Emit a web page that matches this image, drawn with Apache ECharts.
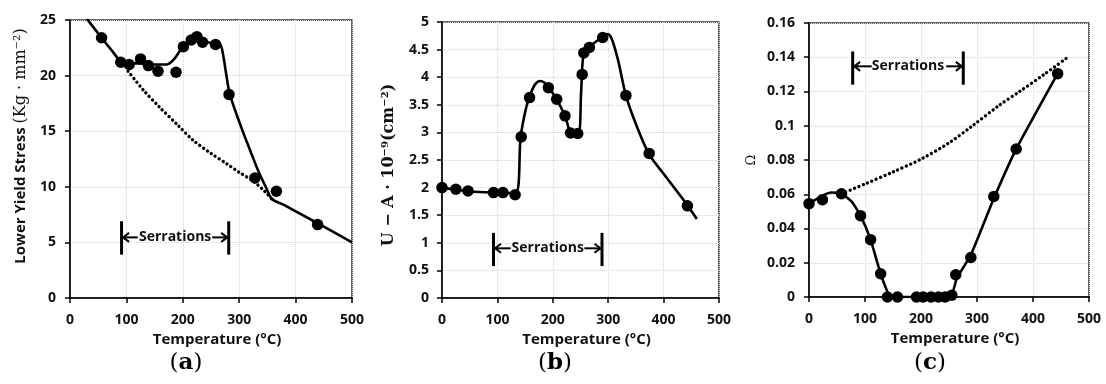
<!DOCTYPE html>
<html><head><meta charset="utf-8">
<script src="https://cdn.jsdelivr.net/npm/echarts@6/dist/echarts.min.js"></script>
<style>html,body{margin:0;padding:0;background:#fff}#c{width:1106px;height:384px}</style>
</head><body><div id="c"></div>
<script>
// ---------- data ----------
const xTicks = [0, 100, 200, 300, 400, 500];
// (a) Lower yield stress
const aPoints = [[56,23.4],[90,21.2],[105,21.0],[125,21.5],[139,20.9],[156,20.4],[188,20.3],[201,22.6],[215,23.2],[225,23.5],[235,23.0],[258,22.8],[282,18.3],[328,10.8],[366,9.6],[439,6.6]];
const aCurve = [[30,25.1],[56,23.4],[75,22.2],[88,21.4],[105,21.1],[125,21.1],[150,21.0],[172,21.0],[185,21.5],[200,22.6],[215,23.3],[225,23.5],[238,23.1],[256,22.9],[265,22.9],[283,18.4],[304,15.3],[320,13.2],[334,11.4],[347,10.0],[358,8.9],[380,8.35],[440,6.7],[500,5.0]];
const aDotted = [[103,20.4],[130,18.7],[158,17.2],[190,15.6],[218,14.2],[250,13.0],[277,12.1],[300,11.3],[325,10.5],[345,9.6],[358,8.9]];
const aSerr = [91.4, 281.4, 3.9, 6.9, 5.45, 120, 252];
// (b) U - A
const bPoints = [[0,2.0],[25,1.97],[47,1.94],[93,1.91],[110,1.91],[132,1.87],[143,2.92],[158,3.63],[192,3.81],[207,3.60],[222,3.30],[232,2.99],[245,2.98],[253,4.05],[256,4.44],[266,4.54],[290,4.72],[332,3.67],[374,2.62],[443,1.67]];
const bCurve = [[0,2.0],[25,1.96],[50,1.93],[90,1.91],[133,1.9],[142,2.92],[152,3.45],[160,3.7],[168,3.87],[177,3.93],[185,3.9],[193,3.81],[207,3.6],[222,3.3],[233,2.99],[246,2.97],[251,3.7],[254,4.3],[258,4.46],[266,4.55],[280,4.66],[290,4.73],[299,4.78],[307,4.68],[318,4.3],[332,3.67],[350,3.15],[374,2.6],[400,2.25],[443,1.68],[460,1.43]];
const bSerr = [93, 288.8, 0.58, 1.18, 0.9, 124, 257];
// (c) Omega
const cPoints = [[0,0.0545],[24,0.0568],[58,0.0603],[92,0.0475],[110,0.0335],[128,0.0136],[140,0],[158,0],[192,0],[204,0],[218,0],[231,0],[243,0],[255,0.001],[262,0.013],[289,0.0231],[330,0.0587],[370,0.0864],[444,0.1304]];
const cCurve = [[0,0.0545],[20,0.0585],[40,0.061],[58,0.0605],[76,0.0558],[92,0.0475],[110,0.0335],[128,0.0136],[147,0],[252,0],[264,0.011],[289,0.0245],[330,0.0575],[370,0.0864],[444,0.1304]];
const cDotted = [[58,0.0603],[100,0.066],[150,0.073],[200,0.0805],[250,0.09],[290,0.0995],[340,0.112],[376,0.12],[420,0.13],[462,0.14]];
const cSerr = [78, 275.5, 0.124, 0.1434, 0.1347, 112, 245];

// ---------- styles ----------
const SANS = '"Open Sans", "Liberation Sans", sans-serif';
const SERIF = '"DejaVu Serif", "Liberation Serif", serif';
const INK = '#111';
const grids = [
  {left:70, top:20, width:282, height:278},
  {left:442, top:22, width:277, height:276},
  {left:809, top:23, width:280, height:274}
];
const yCfg = [
  {min:0, max:25, interval:5, margin:14},
  {min:0, max:5, interval:0.5, margin:13},
  {min:0, max:0.16, interval:0.02, margin:14}
];
const smoothBy = [0.25, 0.3, 0.15];

function xAxisOf(i){
  return {
    type:'value', gridIndex:i, min:0, max:500, interval:100,
    name:'Temperature (°C)', nameLocation:'middle', nameGap:30,
    nameTextStyle:{fontFamily:SANS, fontWeight:'bold', fontSize:15, color:INK, padding:[0,0,0,12]},
    axisLine:{show:true, onZero:false, lineStyle:{color:'#000', width:1.5}},
    axisTick:{show:true, inside:false, length:5, lineStyle:{color:'#000', width:1.5}},
    axisLabel:{fontFamily:SANS, fontWeight:'bold', fontSize:14, color:INK, margin:15},
    splitLine:{show:true, lineStyle:{color:'#d4d4d4', type:'dotted', width:1}}
  };
}
function yAxisOf(i, name, nameGap, rich, pad){
  const c = yCfg[i];
  return {
    type:'value', gridIndex:i, min:c.min, max:c.max, interval:c.interval,
    name:name, nameLocation:'middle', nameGap:nameGap, nameRotate:90,
    nameTextStyle:{rich:rich, padding:pad},
    axisLine:{show:true, onZero:false, lineStyle:{color:'#000', width:1.5}},
    axisTick:{show:true, inside:false, length:5, lineStyle:{color:'#000', width:1.5}},
    axisLabel:{fontFamily:SANS, fontWeight:'bold', fontSize:14, color:INK, margin:c.margin},
    splitLine:{show:true, lineStyle:{color:'#d4d4d4', type:'dotted', width:1}}
  };
}

function serrRender(params, api){
  const x0=api.value(0), x1=api.value(1), yl=api.value(2), yh=api.value(3), ym=api.value(4), il=api.value(5), ir=api.value(6);
  const pL0=api.coord([x0,yl]), pL1=api.coord([x0,yh]);
  const pR0=api.coord([x1,yl]), pR1=api.coord([x1,yh]);
  const aL=api.coord([x0,ym]), aLi=api.coord([il,ym]);
  const aR=api.coord([x1,ym]), aRi=api.coord([ir,ym]);
  const mid=api.coord([(x0+x1)/2, ym]);
  const h=6, w=4.5;
  const ls={stroke:'#000', lineWidth:2, fill:null};
  return {type:'group', children:[
    {type:'line', shape:{x1:pL0[0],y1:pL0[1],x2:pL1[0],y2:pL1[1]}, style:{stroke:'#000',lineWidth:3}},
    {type:'line', shape:{x1:pR0[0],y1:pR0[1],x2:pR1[0],y2:pR1[1]}, style:{stroke:'#000',lineWidth:3}},
    {type:'line', shape:{x1:aLi[0],y1:aLi[1],x2:aL[0]+1.5,y2:aL[1]}, style:ls},
    {type:'line', shape:{x1:aRi[0],y1:aRi[1],x2:aR[0]-1.5,y2:aR[1]}, style:ls},
    {type:'polyline', shape:{points:[[aL[0]+1.5+h,aL[1]-w],[aL[0]+1.5,aL[1]],[aL[0]+1.5+h,aL[1]+w]]}, style:ls},
    {type:'polyline', shape:{points:[[aR[0]-1.5-h,aR[1]-w],[aR[0]-1.5,aR[1]],[aR[0]-1.5-h,aR[1]+w]]}, style:ls},
    {type:'text', x:mid[0], y:mid[1], style:{text:'Serrations', align:'center', verticalAlign:'middle', fontFamily:SANS, fontWeight:'bold', fontSize:14, fill:INK}}
  ]};
}

function panelSeries(i, pts, curve, dotted, serr){
  const s = [
    {type:'line', xAxisIndex:i, yAxisIndex:i, data:curve, symbol:'none', smooth:smoothBy[i],
     lineStyle:{color:'#000', width:2.6, opacity:1}, z:3, silent:true},
    {type:'scatter', xAxisIndex:i, yAxisIndex:i, data:pts, symbol:'circle', symbolSize:11.5,
     itemStyle:{color:'#000', opacity:1}, z:5, silent:true},
    {type:'custom', xAxisIndex:i, yAxisIndex:i, data:[serr], renderItem:serrRender, z:6, silent:true}
  ];
  if (dotted) s.push({type:'line', xAxisIndex:i, yAxisIndex:i, data:dotted, symbol:'none', smooth:0.3,
     lineStyle:{color:'#000', width:3.3, opacity:1, type:[0.1,4.6], cap:'round'}, z:2, silent:true});
  return s;
}

const panelRich = {p:{fontFamily:SERIF, fontSize:23, fill:'#000'}, b:{fontFamily:SERIF, fontWeight:'bold', fontSize:23, fill:'#000'}};
const chart = echarts.init(document.getElementById('c'), null, {renderer:'canvas'});
chart.setOption({
  backgroundColor:'#fff',
  animation:false,
  grid: grids.map(g => Object.assign({show:true, borderColor:'#333', borderWidth:1.5, backgroundColor:'transparent', outerBoundsMode:'none'}, g)),
  xAxis:[xAxisOf(0), xAxisOf(1), xAxisOf(2)],
  yAxis:[
    yAxisOf(0, '{s|Lower Yield Stress }{m|(Kg · mm⁻²)}', 41,
      {s:{fontFamily:SANS, fontWeight:'bold', fontSize:15, color:INK},
       m:{fontFamily:SERIF, fontSize:16, color:INK}}, [0,0,0,26]),
    yAxisOf(1, '{m|U − A · 10⁻⁹(cm⁻²)}', 45,
      {m:{fontFamily:SERIF, fontWeight:'bold', fontSize:16, color:INK}}, [0,10,0,0]),
    yAxisOf(2, '{m|Ω}', 51,
      {m:{fontFamily:SERIF, fontSize:13, color:INK}}, 0)
  ],
  series: [].concat(
    panelSeries(0, aPoints, aCurve, aDotted, aSerr),
    panelSeries(1, bPoints, bCurve, null, bSerr),
    panelSeries(2, cPoints, cCurve, cDotted, cSerr)
  ),
  graphic: [
    {type:'text', x:186, y:363, style:{text:'{p|(}{b|a}{p|)}', align:'center', verticalAlign:'middle', rich:panelRich}},
    {type:'text', x:555, y:363, style:{text:'{p|(}{b|b}{p|)}', align:'center', verticalAlign:'middle', rich:panelRich}},
    {type:'text', x:930, y:363, style:{text:'{p|(}{b|c}{p|)}', align:'center', verticalAlign:'middle', rich:panelRich}}
  ]
});
</script></body></html>
